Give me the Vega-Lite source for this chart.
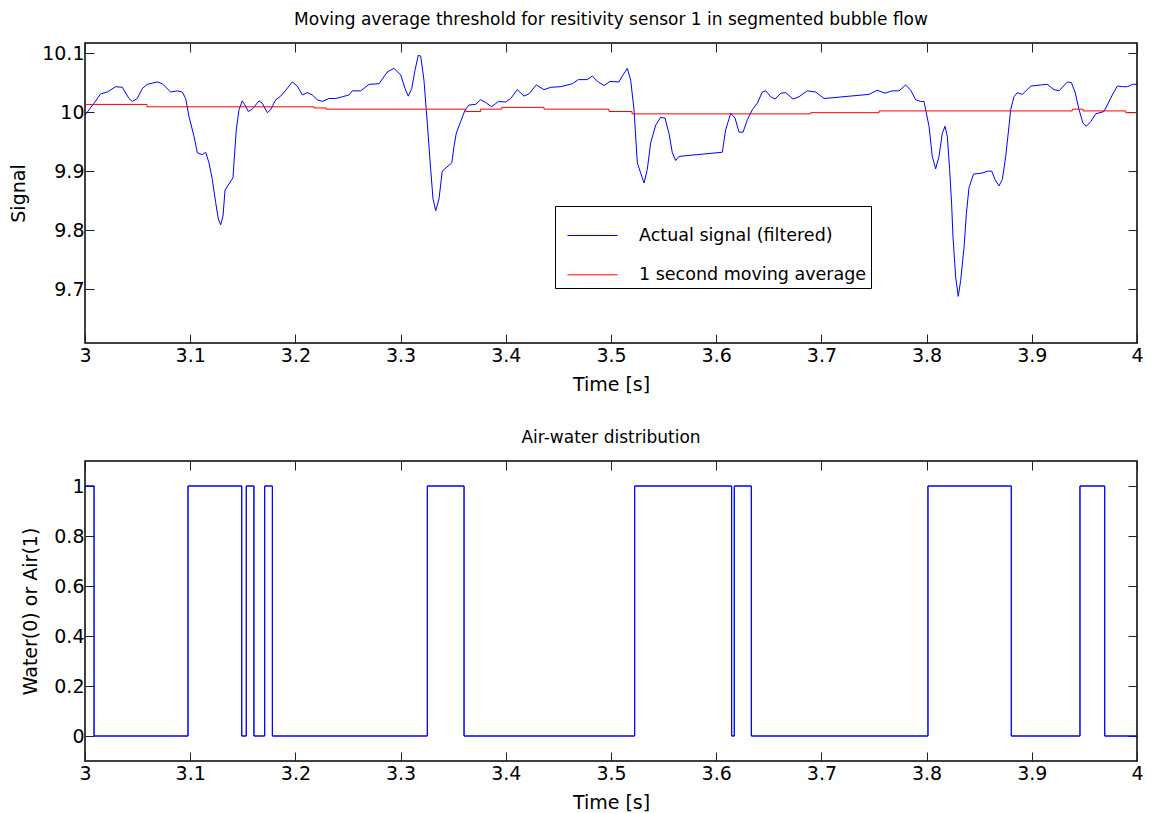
{
  "$schema": "https://vega.github.io/schema/vega-lite/v6.json",
  "background": "white",
  "padding": {"left": 8, "top": 9, "right": 10, "bottom": 5},
  "bounds": "flush",
  "spacing": 118,
  "config": {
    "font": "DejaVu Sans",
    "view": {"stroke": "black", "strokeWidth": 1.5},
    "axis": {
      "domain": false,
      "grid": false,
      "offset": -9,
      "tickSize": 9,
      "tickColor": "#222222",
      "tickWidth": 1,
      "labelPadding": 1,
      "labelFlush": false,
      "labelFontSize": 19,
      "labelColor": "black",
      "titleFontSize": 19,
      "titleFontWeight": "normal",
      "titleColor": "black",
      "titlePadding": 13
    },
    "axisX": {"labelPadding": 3, "titlePadding": 10},
    "legend": {"rowPadding": 5.3, "padding": 4},
    "title": {"fontSize": 17, "fontWeight": "normal", "color": "black", "anchor": "middle"}
  },
  "datasets": {
    "signal": [
      {"t": 3.0000, "v": 9.995}, {"t": 3.0086, "v": 10.015}, {"t": 3.0149, "v": 10.031}, {"t": 3.0212, "v": 10.034},
      {"t": 3.0292, "v": 10.043}, {"t": 3.0355, "v": 10.042}, {"t": 3.0418, "v": 10.023}, {"t": 3.0450, "v": 10.018},
      {"t": 3.0497, "v": 10.023}, {"t": 3.0545, "v": 10.040}, {"t": 3.0592, "v": 10.047}, {"t": 3.0687, "v": 10.051},
      {"t": 3.0735, "v": 10.048}, {"t": 3.0815, "v": 10.034}, {"t": 3.0877, "v": 10.036}, {"t": 3.0925, "v": 10.034},
      {"t": 3.0957, "v": 10.023}, {"t": 3.0989, "v": 9.992}, {"t": 3.1036, "v": 9.959}, {"t": 3.1068, "v": 9.931},
      {"t": 3.1115, "v": 9.928}, {"t": 3.1147, "v": 9.932}, {"t": 3.1179, "v": 9.914}, {"t": 3.1210, "v": 9.886},
      {"t": 3.1242, "v": 9.847}, {"t": 3.1267, "v": 9.819}, {"t": 3.1290, "v": 9.809}, {"t": 3.1312, "v": 9.824},
      {"t": 3.1331, "v": 9.868}, {"t": 3.1407, "v": 9.889}, {"t": 3.1416, "v": 9.914}, {"t": 3.1438, "v": 9.970},
      {"t": 3.1464, "v": 10.004}, {"t": 3.1495, "v": 10.019}, {"t": 3.1521, "v": 10.012}, {"t": 3.1552, "v": 10.001},
      {"t": 3.1590, "v": 10.005}, {"t": 3.1654, "v": 10.019}, {"t": 3.1685, "v": 10.015}, {"t": 3.1733, "v": 9.999},
      {"t": 3.1765, "v": 10.004}, {"t": 3.1813, "v": 10.021}, {"t": 3.1860, "v": 10.027}, {"t": 3.1908, "v": 10.037},
      {"t": 3.1971, "v": 10.051}, {"t": 3.2018, "v": 10.044}, {"t": 3.2066, "v": 10.029}, {"t": 3.2113, "v": 10.033},
      {"t": 3.2161, "v": 10.029}, {"t": 3.2208, "v": 10.021}, {"t": 3.2256, "v": 10.018}, {"t": 3.2319, "v": 10.023},
      {"t": 3.2383, "v": 10.023}, {"t": 3.2446, "v": 10.026}, {"t": 3.2510, "v": 10.029}, {"t": 3.2541, "v": 10.036},
      {"t": 3.2621, "v": 10.036}, {"t": 3.2700, "v": 10.047}, {"t": 3.2795, "v": 10.048}, {"t": 3.2874, "v": 10.068},
      {"t": 3.2937, "v": 10.074}, {"t": 3.3001, "v": 10.063}, {"t": 3.3042, "v": 10.040}, {"t": 3.3073, "v": 10.027},
      {"t": 3.3106, "v": 10.040}, {"t": 3.3137, "v": 10.071}, {"t": 3.3168, "v": 10.096}, {"t": 3.3191, "v": 10.095},
      {"t": 3.3222, "v": 10.054}, {"t": 3.3254, "v": 9.981}, {"t": 3.3286, "v": 9.903}, {"t": 3.3308, "v": 9.853},
      {"t": 3.3334, "v": 9.833}, {"t": 3.3365, "v": 9.853}, {"t": 3.3396, "v": 9.900}, {"t": 3.3486, "v": 9.914},
      {"t": 3.3508, "v": 9.942}, {"t": 3.3529, "v": 9.964}, {"t": 3.3571, "v": 9.984}, {"t": 3.3612, "v": 10.003},
      {"t": 3.3650, "v": 10.012}, {"t": 3.3714, "v": 10.013}, {"t": 3.3761, "v": 10.021}, {"t": 3.3809, "v": 10.016},
      {"t": 3.3866, "v": 10.009}, {"t": 3.3929, "v": 10.018}, {"t": 3.3999, "v": 10.017}, {"t": 3.4047, "v": 10.023},
      {"t": 3.4109, "v": 10.038}, {"t": 3.4173, "v": 10.027}, {"t": 3.4221, "v": 10.031}, {"t": 3.4290, "v": 10.046},
      {"t": 3.4363, "v": 10.038}, {"t": 3.4427, "v": 10.042}, {"t": 3.4522, "v": 10.043}, {"t": 3.4632, "v": 10.048},
      {"t": 3.4689, "v": 10.055}, {"t": 3.4775, "v": 10.055}, {"t": 3.4822, "v": 10.061}, {"t": 3.4879, "v": 10.051},
      {"t": 3.4934, "v": 10.045}, {"t": 3.4990, "v": 10.052}, {"t": 3.5076, "v": 10.051}, {"t": 3.5107, "v": 10.061},
      {"t": 3.5155, "v": 10.074}, {"t": 3.5187, "v": 10.054}, {"t": 3.5219, "v": 10.004}, {"t": 3.5250, "v": 9.914},
      {"t": 3.5282, "v": 9.897}, {"t": 3.5314, "v": 9.880}, {"t": 3.5345, "v": 9.903}, {"t": 3.5377, "v": 9.948},
      {"t": 3.5425, "v": 9.978}, {"t": 3.5472, "v": 9.991}, {"t": 3.5513, "v": 9.990}, {"t": 3.5551, "v": 9.964},
      {"t": 3.5583, "v": 9.931}, {"t": 3.5615, "v": 9.918}, {"t": 3.5646, "v": 9.925}, {"t": 3.6058, "v": 9.932},
      {"t": 3.6090, "v": 9.970}, {"t": 3.6138, "v": 9.998}, {"t": 3.6179, "v": 9.990}, {"t": 3.6217, "v": 9.966},
      {"t": 3.6255, "v": 9.966}, {"t": 3.6296, "v": 9.987}, {"t": 3.6343, "v": 10.004}, {"t": 3.6391, "v": 10.015},
      {"t": 3.6438, "v": 10.034}, {"t": 3.6471, "v": 10.036}, {"t": 3.6518, "v": 10.026}, {"t": 3.6559, "v": 10.022},
      {"t": 3.6613, "v": 10.032}, {"t": 3.6661, "v": 10.033}, {"t": 3.6730, "v": 10.022}, {"t": 3.6787, "v": 10.026},
      {"t": 3.6866, "v": 10.036}, {"t": 3.6946, "v": 10.034}, {"t": 3.7025, "v": 10.023}, {"t": 3.7452, "v": 10.030},
      {"t": 3.7531, "v": 10.037}, {"t": 3.7605, "v": 10.032}, {"t": 3.7674, "v": 10.036}, {"t": 3.7738, "v": 10.036},
      {"t": 3.7801, "v": 10.046}, {"t": 3.7849, "v": 10.037}, {"t": 3.7896, "v": 10.021}, {"t": 3.7944, "v": 10.018},
      {"t": 3.7975, "v": 10.018}, {"t": 3.8023, "v": 9.976}, {"t": 3.8054, "v": 9.925}, {"t": 3.8086, "v": 9.904},
      {"t": 3.8118, "v": 9.925}, {"t": 3.8149, "v": 9.964}, {"t": 3.8175, "v": 9.976}, {"t": 3.8197, "v": 9.959},
      {"t": 3.8219, "v": 9.903}, {"t": 3.8238, "v": 9.844}, {"t": 3.8251, "v": 9.788}, {"t": 3.8276, "v": 9.721},
      {"t": 3.8301, "v": 9.688}, {"t": 3.8324, "v": 9.715}, {"t": 3.8356, "v": 9.771}, {"t": 3.8378, "v": 9.828},
      {"t": 3.8403, "v": 9.872}, {"t": 3.8446, "v": 9.895}, {"t": 3.8536, "v": 9.897}, {"t": 3.8577, "v": 9.900},
      {"t": 3.8619, "v": 9.900}, {"t": 3.8650, "v": 9.886}, {"t": 3.8688, "v": 9.875}, {"t": 3.8720, "v": 9.886},
      {"t": 3.8752, "v": 9.925}, {"t": 3.8783, "v": 9.976}, {"t": 3.8799, "v": 10.004}, {"t": 3.8831, "v": 10.026},
      {"t": 3.8862, "v": 10.033}, {"t": 3.8910, "v": 10.030}, {"t": 3.8990, "v": 10.044}, {"t": 3.9085, "v": 10.046},
      {"t": 3.9147, "v": 10.047}, {"t": 3.9211, "v": 10.038}, {"t": 3.9259, "v": 10.036}, {"t": 3.9338, "v": 10.051},
      {"t": 3.9376, "v": 10.050}, {"t": 3.9411, "v": 10.034}, {"t": 3.9449, "v": 10.004}, {"t": 3.9487, "v": 9.981},
      {"t": 3.9518, "v": 9.976}, {"t": 3.9560, "v": 9.984}, {"t": 3.9608, "v": 9.997}, {"t": 3.9686, "v": 10.001},
      {"t": 3.9718, "v": 10.012}, {"t": 3.9765, "v": 10.029}, {"t": 3.9813, "v": 10.044}, {"t": 3.9861, "v": 10.043},
      {"t": 3.9908, "v": 10.043}, {"t": 3.9960, "v": 10.047}, {"t": 4.0000, "v": 10.047}
    ],
    "average": [
      {"t": 3.0000, "v": 10.013}, {"t": 3.0589, "v": 10.009}, {"t": 3.2177, "v": 10.007},
      {"t": 3.2291, "v": 10.005}, {"t": 3.3619, "v": 10.001}, {"t": 3.3761, "v": 10.005},
      {"t": 3.3961, "v": 10.008}, {"t": 3.4363, "v": 10.005}, {"t": 3.4981, "v": 10.001},
      {"t": 3.5200, "v": 9.997}, {"t": 3.6898, "v": 9.999}, {"t": 3.7548, "v": 10.002},
      {"t": 3.9385, "v": 10.005}, {"t": 3.9487, "v": 10.002}, {"t": 3.9893, "v": 9.999},
      {"t": 4.0000, "v": 9.999}
    ],
    "phase": [
      {"t": 3.0000, "p": 1}, {"t": 3.0086, "p": 0}, {"t": 3.0979, "p": 1}, {"t": 3.1490, "p": 0},
      {"t": 3.1533, "p": 1}, {"t": 3.1606, "p": 0}, {"t": 3.1708, "p": 1}, {"t": 3.1781, "p": 0},
      {"t": 3.3254, "p": 1}, {"t": 3.3603, "p": 0}, {"t": 3.5225, "p": 1}, {"t": 3.6147, "p": 0},
      {"t": 3.6172, "p": 1}, {"t": 3.6334, "p": 0}, {"t": 3.8013, "p": 1}, {"t": 3.8805, "p": 0},
      {"t": 3.9458, "p": 1}, {"t": 3.9693, "p": 0}, {"t": 4.0000, "p": 0}
    ]
  },
  "vconcat": [
    {
      "width": 1052,
      "height": 300,
      "title": {"text": "Moving average threshold for resitivity sensor 1 in segmented bubble flow", "offset": 14},
      "layer": [
        {
          "data": {"name": "signal"},
          "mark": {"type": "line", "strokeWidth": 1, "clip": true},
          "encoding": {
            "x": {
              "field": "t", "type": "quantitative",
              "scale": {"domain": [3, 4], "nice": false, "zero": false},
              "axis": {"orient": "bottom", "values": [3, 3.1, 3.2, 3.3, 3.4, 3.5, 3.6, 3.7, 3.8, 3.9, 4], "format": "~g", "title": "Time [s]"}
            },
            "y": {
              "field": "v", "type": "quantitative",
              "scale": {"domain": [9.609, 10.117], "nice": false, "zero": false},
              "axis": {"orient": "left", "values": [9.7, 9.8, 9.9, 10, 10.1], "format": "~g", "title": "Signal"}
            },
            "color": {
              "datum": "Actual signal (filtered)", "type": "nominal",
              "scale": {"domain": ["Actual signal (filtered)", "1 second moving average"], "range": ["#0000ff", "#ff0000"]},
              "legend": {
                "orient": "none", "legendX": 470, "legendY": 163, "title": null,
                "symbolType": "stroke", "symbolSize": 2500, "symbolStrokeWidth": 1,
                "symbolOffset": 8, "labelOffset": 21, "labelFontSize": 17.5, "labelColor": "black",
                "labelLimit": 0,
                "strokeColor": "black", "fillColor": "white"
              }
            }
          }
        },
        {
          "data": {"name": "average"},
          "mark": {"type": "line", "strokeWidth": 1, "interpolate": "step-after", "clip": true},
          "encoding": {
            "x": {
              "field": "t", "type": "quantitative",
              "axis": {"orient": "top", "values": [3, 3.1, 3.2, 3.3, 3.4, 3.5, 3.6, 3.7, 3.8, 3.9, 4], "labels": false, "title": null}
            },
            "y": {
              "field": "v", "type": "quantitative",
              "axis": {"orient": "right", "values": [9.7, 9.8, 9.9, 10, 10.1], "labels": false, "title": null}
            },
            "color": {"datum": "1 second moving average", "type": "nominal"}
          }
        }
      ],
      "resolve": {"axis": {"x": "independent", "y": "independent"}}
    },
    {
      "width": 1052,
      "height": 300,
      "title": {"text": "Air-water distribution", "offset": 14},
      "data": {"name": "phase"},
      "layer": [
        {
          "mark": {"type": "line", "strokeWidth": 1, "interpolate": "step-after", "color": "#0000ff"},
          "encoding": {
            "x": {
              "field": "t", "type": "quantitative",
              "scale": {"domain": [3, 4], "nice": false, "zero": false},
              "axis": {"orient": "bottom", "values": [3, 3.1, 3.2, 3.3, 3.4, 3.5, 3.6, 3.7, 3.8, 3.9, 4], "format": "~g", "title": "Time [s]"}
            },
            "y": {
              "field": "p", "type": "quantitative",
              "scale": {"domain": [-0.1, 1.1], "nice": false, "zero": false},
              "axis": {"orient": "left", "values": [0, 0.2, 0.4, 0.6, 0.8, 1], "format": "~g", "title": "Water(0) or Air(1)"}
            }
          }
        },
        {
          "mark": {"type": "line", "strokeWidth": 1, "interpolate": "step-after", "color": "#0000ff"},
          "encoding": {
            "x": {
              "field": "t", "type": "quantitative",
              "axis": {"orient": "top", "values": [3, 3.1, 3.2, 3.3, 3.4, 3.5, 3.6, 3.7, 3.8, 3.9, 4], "labels": false, "title": null}
            },
            "y": {
              "field": "p", "type": "quantitative",
              "axis": {"orient": "right", "values": [0, 0.2, 0.4, 0.6, 0.8, 1], "labels": false, "title": null}
            }
          }
        }
      ],
      "resolve": {"axis": {"x": "independent", "y": "independent"}}
    }
  ]
}
